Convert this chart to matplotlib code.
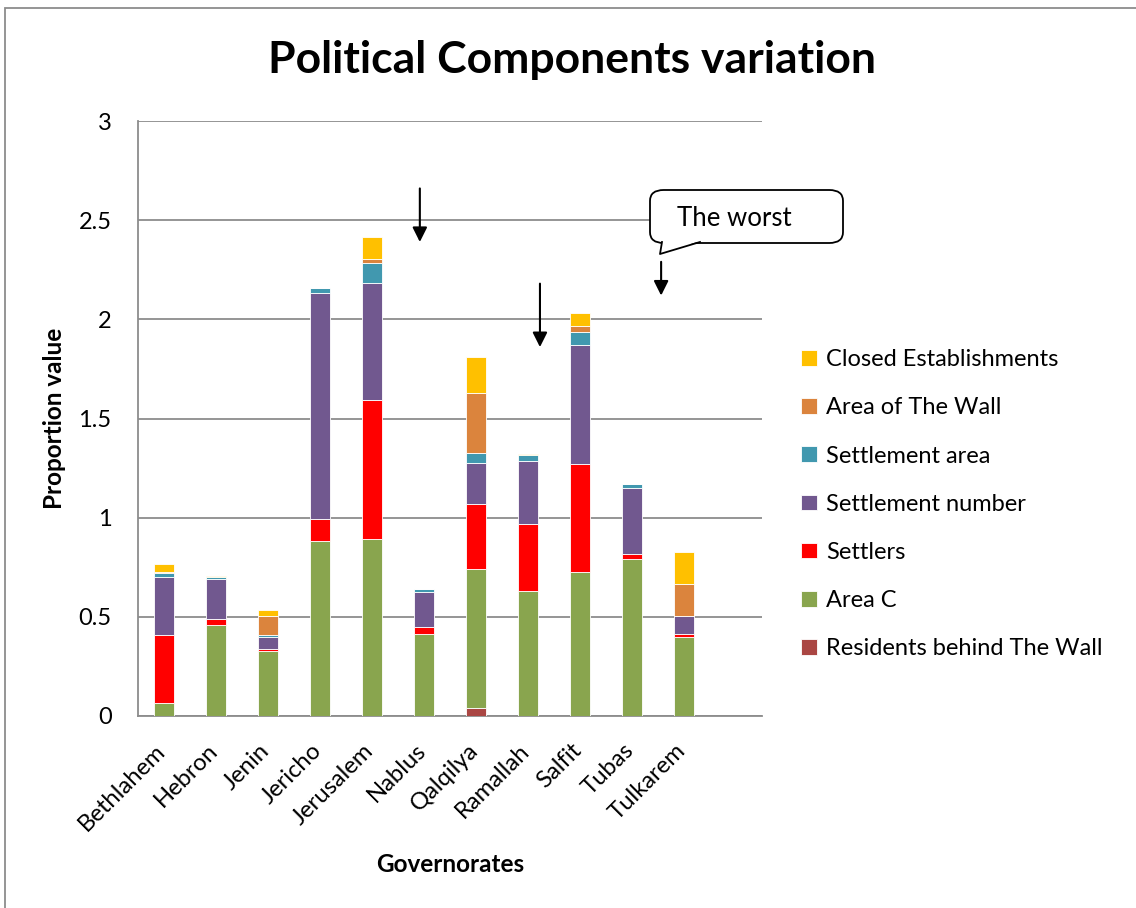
import numpy as np
import matplotlib.pyplot as plt
import matplotlib.transforms as mtransforms
from matplotlib.patches import FancyBboxPatch, Polygon, Rectangle

plt.rcParams['font.family'] = ['Lato', 'DejaVu Sans']

# Governorates (12th slot is empty in the original chart)
governorates = ['Bethlahem', 'Hebron', 'Jenin', 'Jericho', 'Jerusalem', 'Nablus',
                'Qalqilya', 'Ramallah', 'Salfit', 'Tubas', 'Tulkarem', '']

residents_behind_wall = [0, 0, 0, 0, 0, 0, 0.042, 0, 0, 0, 0, 0]
area_c = [0.067, 0.459, 0.328, 0.882, 0.893, 0.412, 0.698, 0.630, 0.726, 0.793, 0.398, 0]
settlers = [0.341, 0.030, 0.008, 0.111, 0.699, 0.038, 0.331, 0.337, 0.546, 0.025, 0.017, 0]
settlement_number = [0.291, 0.203, 0.064, 1.138, 0.593, 0.174, 0.206, 0.320, 0.599, 0.333, 0.088, 0]
settlement_area = [0.020, 0.008, 0.008, 0.027, 0.099, 0.015, 0.048, 0.029, 0.067, 0.017, 0.003, 0]
area_of_wall = [0.005, 0, 0.098, 0, 0.022, 0, 0.302, 0, 0.030, 0, 0.161, 0]
closed_establishments = [0.040, 0.004, 0.027, 0, 0.108, 0, 0.185, 0.005, 0.063, 0, 0.158, 0]

series = [
    ('Residents behind The Wall', residents_behind_wall, '#AA4643'),
    ('Area C', area_c, '#89A54E'),
    ('Settlers', settlers, '#FF0000'),
    ('Settlement number', settlement_number, '#71588F'),
    ('Settlement area', settlement_area, '#4198AF'),
    ('Area of The Wall', area_of_wall, '#DB843D'),
    ('Closed Establishments', closed_establishments, '#FFC000'),
]

fig = plt.figure(figsize=(11.36, 9.08), dpi=100)
ax = fig.add_axes([138 / 1136, 1 - 716 / 908, 624 / 1136, 595 / 908])

x = np.arange(len(governorates))
bottom = np.zeros(len(governorates))
handles = []
for name, vals, color in series:
    vals = np.array(vals)
    b = ax.bar(x, vals, 0.4, bottom=bottom, color=color, edgecolor='white',
               linewidth=0.6, label=name, zorder=3)
    handles.append(b)
    bottom += vals

ax.set_xlim(-0.5, len(governorates) - 0.5)
ax.set_ylim(0, 3)
ax.set_yticks(np.arange(0, 3.01, 0.5))
ax.set_yticklabels(['0', '0.5', '1', '1.5', '2', '2.5', '3'], fontsize=17)
ax.yaxis.grid(True, color='#8c8c8c', linewidth=1.3, zorder=0)
ax.set_xticks(x[:-1])
ax.set_xticklabels(governorates[:-1], rotation=45, ha='right', rotation_mode='anchor',
                   fontsize=17.2)
ax.tick_params(axis='y', length=0, pad=19)
ax.tick_params(axis='x', length=0, pad=10)
shift = mtransforms.ScaledTranslation(-9 / 100, -10 / 100, fig.dpi_scale_trans)
for lbl in ax.get_xticklabels():
    lbl.set_transform(lbl.get_transform() + shift)
for s in ['top', 'right']:
    ax.spines[s].set_visible(False)
for s in ['left', 'bottom']:
    ax.spines[s].set_color('#8c8c8c')
    ax.spines[s].set_linewidth(1.3)

ax.set_ylabel('Proportion value', fontsize=17.5, fontweight='bold')
ax.yaxis.set_label_coords(-(138 - 66) / 624, 0.5)
fig.text(450 / 1136, 1 - 865 / 908, 'Governorates', fontsize=17.5, fontweight='bold',
         ha='center', va='center')
fig.text(572 / 1136, 1 - 60 / 908, 'Political Components variation', fontsize=32,
         fontweight='bold', ha='center', va='center')

# arrows
arrows = [(4.92, 2.66, 2.39), (7.23, 2.18, 1.86), (9.56, 2.29, 2.12)]
for ax_x, y0, y1 in arrows:
    ax.annotate('', xy=(ax_x, y1), xytext=(ax_x, y0),
                arrowprops=dict(arrowstyle='-|>', color='black', lw=1.5,
                                mutation_scale=22, shrinkA=0, shrinkB=0))

# callout "The worst"
box = FancyBboxPatch((650 / 1136, 1 - 243 / 908), 193 / 1136, 53 / 908,
                     boxstyle='round,pad=0,rounding_size=0.012',
                     transform=fig.transFigure, facecolor='white',
                     edgecolor='black', linewidth=1.3, zorder=5)
fig.patches.append(box)
tail = Polygon([(662 / 1136, 1 - 241 / 908), (700 / 1136, 1 - 241 / 908),
                (660 / 1136, 1 - 254 / 908)], closed=True,
               transform=fig.transFigure, facecolor='white', edgecolor='none', zorder=6)
fig.patches.append(tail)
fig.lines.append(plt.Line2D([662 / 1136, 660 / 1136, 700 / 1136],
                            [1 - 242 / 908, 1 - 254 / 908, 1 - 242 / 908],
                            transform=fig.transFigure, color='black', lw=1.3, zorder=7))
fig.text(734 / 1136, 1 - 219 / 908, 'The worst', fontsize=18.5, ha='center', va='center',
         zorder=8)

# legend
leg = fig.legend(handles[::-1], [s[0] for s in series][::-1],
                 loc='upper left', bbox_to_anchor=(780 / 1136, 1 - 328 / 908),
                 frameon=False, fontsize=17, handlelength=0.65, handleheight=0.65,
                 handletextpad=0.4, labelspacing=1.15)

# figure border
fig.patches.append(Rectangle((5 / 1136, -0.05), 1.1, 1 - 8 / 908 + 0.05,
                             transform=fig.transFigure, fill=False,
                             edgecolor='#8c8c8c', linewidth=1.3))

fig.savefig('out.png', dpi=100)
